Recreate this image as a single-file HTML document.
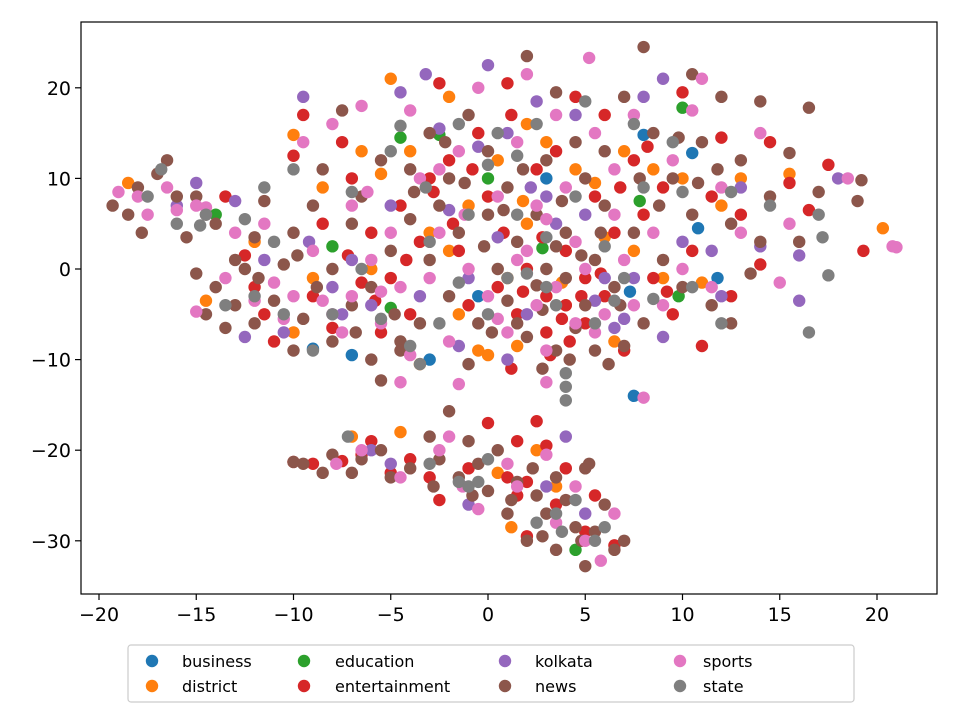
<!DOCTYPE html>
<html><head><meta charset="utf-8"><style>
body{margin:0;background:#fff}
svg{display:block;font-family:"DejaVu Sans","Liberation Sans",sans-serif}
</style></head><body>
<svg id="chart" width="960" height="720" viewBox="0 0 960 720">
<rect x="0" y="0" width="960" height="720" fill="#fff"/>
<g id="points"></g>
<rect x="81" y="22" width="856" height="572" fill="none" stroke="#000" stroke-width="1.2"/>
<g id="xaxis"></g>
<g id="yaxis"></g>
<g id="legend">
<rect x="128" y="645" width="726" height="57" rx="3" fill="#fff" stroke="#ccc" stroke-width="1.2"/>
</g>
</svg>
<script>
const categories=["business","district","education","entertainment","kolkata","news","sports","state"];
const colors=["#1f77b4","#ff7f0e","#2ca02c","#d62728","#9467bd","#8c564b","#e377c2","#7f7f7f"];
const xTicks=[-20,-15,-10,-5,0,5,10,15,20];
const yTicks=[-30,-20,-10,0,10,20];
const business=[[-9.0,-8.8],[-3,-10],[10.5,12.8],[8,14.8],[7.3,-2.5],[10.8,4.5],[11.8,-1],[7.5,-14],[-0.5,-3],[3,10],[-7,-9.5]];
const district=[[-18.5,9.5],[-14.5,-3.5],[-10,14.8],[-6.5,13],[-5,21],[-4,13],[-3.5,-10.5],[-2,19],[-1,7],[0,-9.5],[1,-1],[1.5,-8.5],[2,5],[-4.5,-18],[-7,-18.5],[0.5,-22.5],[1.2,-28.5],[3.5,-24],[5.5,9.5],[6,3.5],[7,13],[8.5,11],[10,10],[11,-1.5],[12,7],[13,10],[15.5,10.5],[20.3,4.5],[-5.5,10.5],[-8.5,9],[-12,3],[3,14],[-1.5,-5],[2.5,-20],[6.5,-8],[9,-1],[-3,4],[4,-4],[-10,-7],[-6,0],[0.5,12],[3.8,-1.5],[-9,-1],[-2,2],[1.8,7.5],[4.5,11],[7.5,2],[-0.5,-9],[2,16]];
const education=[[-14,6],[-8,2.5],[-5,-4.3],[-4.5,14.5],[2.8,2.3],[10,17.8],[9.8,-3],[4.5,-31],[7.8,7.5],[0,10],[-2.5,14.8]];
const entertainment=[[-13.5,8],[-12.5,1.5],[-12,-2],[-11.5,-5],[-11,-8],[-10,12.5],[-9.5,17],[-9,-3],[-8.5,5],[-8,-6.5],[-7.5,14],[-7,10],[-6.5,-1.5],[-6,4],[-5.5,-7],[-5,-1],[-4.5,7],[-4,-5],[-3.5,3],[-3,10],[-2.5,20.5],[-2,12],[-1.5,2],[-1,-4],[-0.5,15],[0,8],[0.5,-2],[1,20.5],[1.2,17],[1.5,-5],[2,0],[2.5,11],[3,-3],[3,-7],[3.5,13],[4,2],[4,-4],[4.5,19],[5,-1],[5,-6],[5.5,8],[6,17],[6,-3],[6.5,4],[7,-9],[7.5,12],[8,6],[8.5,-1],[9,9],[9.5,-5],[10,19.5],[10.5,2],[11,-8.5],[11.5,8],[12,14.5],[12.5,-3],[13,6],[14,0.5],[14.5,14],[15.5,9.5],[16.5,6.5],[17.5,11.5],[19.3,2],[-10,-21.3],[-9,-21.5],[-7.5,-21.2],[-6.5,-20.5],[-5,-22.5],[-4,-21],[-2.5,-25.5],[-1,-22],[0,-17],[1,-23],[1.5,-25],[2,-29.5],[2.5,-16.8],[3,-19.5],[3.5,-26],[4,-22],[5,-29],[5.5,-25],[6.5,-30.5],[1.5,-19],[-3,-23],[-6,-19],[2,-23.5],[-2.8,8.5],[-1.8,5],[-0.8,11],[0.8,4],[1.8,-2.5],[2.8,3.5],[3.8,-5.5],[4.8,-3],[5.8,-0.5],[6.8,9],[8.2,13.5],[9.2,-2.5],[-4.2,1],[-5.8,-3.5],[-7.2,1.5],[3.2,-9.5],[4.2,-8],[1.2,-11]];
const kolkata=[[-15,9.5],[-16,7],[-13,7.5],[-12.5,-7.5],[-11.5,1],[-10.5,-7],[-9.5,19],[-9.2,3],[-8,-2],[-7,1],[-6,-4],[-5,7],[-4.5,19.5],[-3.5,-3],[-3.2,21.5],[-2.5,15.5],[-1.5,-8.5],[-1,-1],[0,22.5],[0.5,3.5],[1,15],[2,-5],[2.5,18.5],[3,8],[4,-18.5],[4.5,17],[5.5,-3.5],[6,-1],[7,-5.5],[7.5,-1],[8,19],[9,21],[9,-7.5],[10,3],[11.5,2],[12,-3],[13,9],[14,2.5],[16,-3.5],[16,1.5],[18,10],[-5,-21.5],[-1,-26],[3,-24],[5,-27],[-6,-20],[1,-10],[-7.5,-5],[-2,6.5],[2.2,9],[3.5,5],[5,6],[-0.5,13.5],[6.5,-6.5]];
const news=[[-19.3,7],[-18.5,6],[-18,9],[-17.8,4],[-17,10.5],[-16.5,12],[-16,8],[-15.5,3.5],[-15,8],[-14.5,6],[-14,5],[-15,-0.5],[-14.5,-5],[-14,-2],[-13.5,-6.5],[-13,-4],[-12.5,0],[-12,3.5],[-12,-6],[-11.5,7.5],[-11,-3.5],[-10.5,0.5],[-10,-9],[-10,4],[-9.5,-5.5],[-9,7],[-8.5,11],[-8,-8],[-8,0],[-7.5,17.5],[-7,-4],[-7,5],[-6.5,8],[-6,-10],[-6,-2],[-5.5,12],[-5.5,-12.3],[-5,2],[-4.5,-8],[-4,5.5],[-4,11],[-3.5,-6],[-3,15],[-3,1],[-2.5,7],[-2,-3],[-2,10],[-1.5,4],[-1,17],[-0.5,-6],[0,6],[0,13],[0.5,0],[1,-3.5],[1,9],[1.5,3],[2,23.5],[2,-7.5],[2.5,6],[3,12],[3,0],[3.5,19.5],[3.5,-9],[4,4],[4,-1],[4.5,14],[5,-4],[5,10],[5.5,1],[5.5,-9],[6,7],[6,13],[6.5,-2],[7,19],[7,-8.5],[7.5,4],[8,24.5],[8,-6],[8.5,15],[9,1],[9.5,10],[10,-2],[10.5,21.5],[10.5,6],[11,14],[11.5,-4],[12,19],[12.5,5],[13,12],[13.5,-0.5],[14,3],[14,18.5],[14.5,8],[15.5,12.8],[16,3],[16.5,17.8],[17,8.5],[19,7.5],[19.2,9.8],[12.5,-6],[-10,-21.3],[-9.5,-21.5],[-8,-20.5],[-7,-22.5],[-6.5,-21],[-5.5,-20],[-4,-22],[-3,-18.5],[-2.5,-21],[-2,-15.7],[-1.5,-23],[-1,-19],[-0.5,-21.5],[0,-24.5],[0.5,-20],[1,-27],[1.5,-23.5],[2,-30],[2.5,-25],[3,-27],[3.5,-23],[3.5,-31],[4,-25.5],[4.5,-28.5],[5,-22],[5,-32.8],[5.5,-29],[6,-26],[6.5,-31],[7,-30],[5.2,-21.5],[2.3,-22],[-2.2,14],[-1.2,9.5],[-0.2,2.5],[0.8,6.5],[1.8,11],[2.8,-4.5],[3.8,7.5],[4.8,1.5],[5.8,4],[6.8,-4],[7.8,10],[8.8,7],[9.8,14.5],[10.8,9.5],[11.8,11],[-3.8,8.5],[-4.8,-5],[-6.8,-7],[-8.8,-2],[-9.8,1.5],[-11.8,-1],[-13,1],[2.5,-1.8],[3.5,2.5],[4.5,-6.5],[1.5,-6],[0.2,-7],[-1,-10.5],[2.8,-11],[4.2,-10],[6.2,-10.5],[-4.5,-9],[-0.8,-25],[1.2,-25.5],[2.8,-29.5],[4.8,-30],[-2.8,-24],[-5,-23],[-8.5,-22.5]];
const sports=[[-19,8.5],[-18,8],[-17.5,6],[-16.5,9],[-16,6.5],[-15,7],[-14.5,6.8],[-15,-4.7],[-13.5,-1],[-13,4],[-12,-3.5],[-11.5,5],[-11,-1.5],[-10.5,-5.5],[-10,-3],[-9.5,14],[-9,2],[-8.5,-3.5],[-8,16],[-7.5,-7],[-7,7],[-7,-3],[-6.5,18],[-6,1],[-5.5,-6],[-5,4],[-4.5,-2],[-4,17.5],[-4,-9.5],[-3.5,10],[-3,-1],[-2.5,4],[-2,-8],[-1.5,13],[-1,0],[-0.5,20],[0,-3],[0.5,8],[1,-7],[1.5,14],[2,21.5],[2,2],[2.5,-4],[3,5.5],[3,-12.5],[3.5,17],[4,9],[4.5,-6],[5,0],[5.2,23.3],[5.5,15],[6,-5],[6.5,11],[7,1],[7.5,17],[8,-14.2],[8.5,4],[9,-4],[9.5,12],[10,0],[10.5,17.5],[11,21],[11.5,-2],[12,9],[13,4],[14,15],[15,-1.5],[15.5,5],[18.5,10],[20.8,2.5],[21,2.4],[-7.8,-21.5],[-6.5,-20],[-4.5,-23],[-2.5,-20],[-1.3,-24],[-0.5,-26.5],[1,-21.5],[1.5,-24],[3.5,-28],[4.5,-24],[5,-30],[5.8,-32.2],[6.5,-27],[-2,-18.5],[3,-20.5],[-4.5,-12.5],[-1.5,-12.7],[-2.5,11],[-1.2,6],[0.5,-5.5],[1.5,1],[2.5,7],[3.5,-2],[4.5,3],[5.5,-7],[6.5,6],[7.5,-4],[-5.5,-2.5],[-8,-5],[-6.2,8.5],[3,-9]];
const state=[[-17.5,8],[-16.8,11],[-16,5],[-14.5,6],[-14.8,4.8],[-13.5,-4],[-12.5,5.5],[-12,-3],[-11.5,9],[-11,3],[-10.5,-5],[-10,11],[-9,-9],[-8,-5],[-7,8.5],[-6.5,0],[-5.5,-5.5],[-5,13],[-4.5,15.8],[-4,-8.5],[-3.5,-10.5],[-3,3],[-2.5,-6],[-1.5,16],[-1,6],[0,-5],[0,11.5],[0.5,15],[1,-1],[1.5,6],[2.5,16],[3,-2],[3.5,-4],[4,-13],[4,-14.5],[4.5,8],[5,18.5],[5.5,-6],[6,2.5],[7,-1],[7.5,16],[8,9],[8.5,-3.3],[9.5,14],[10,8.5],[10.5,-2],[12,-6],[12.5,8.5],[14.5,7],[17,6],[17.2,3.5],[17.5,-0.7],[16.5,-7],[-7.2,-18.5],[-3,-21.5],[-1.5,-23.5],[-1,-24],[0,-21],[2.5,-28],[3.5,-27],[4.5,-25.5],[5.5,-30],[-0.5,-23.5],[6,-28.5],[3.8,-29],[-3.2,9],[1.5,12.5],[2,-0.5],[4,-11.5],[3,3.5],[6.5,-3.5],[-1.5,-1.5]];
const seriesList=[business,district,education,entertainment,kolkata,news,sports,state];

const NS="http://www.w3.org/2000/svg";
function sx(v){return 488+v*19.45;}
function sy(v){return 269-v*9.06;}
function mk(tag,attrs,parent){const e=document.createElementNS(NS,tag);for(const k in attrs)e.setAttribute(k,attrs[k]);parent.appendChild(e);return e;}

const pts=document.getElementById('points');
seriesList.forEach((s,i)=>{
  const g=mk('g',{},pts);
  
  
  s.forEach(p=>{
    const c=mk('circle',{cx:sx(p[0]),cy:sy(p[1]),r:6.2,fill:colors[i]},g);
    
    
  });
});

const xa=document.getElementById('xaxis');
xTicks.forEach(t=>{
  const l=mk('line',{x1:sx(t),x2:sx(t),y1:594,y2:600,stroke:'#000','stroke-width':1.2},xa);
  
  
  const tx=mk('text',{x:sx(t),y:621,'text-anchor':'middle','font-size':19},xa);
  
  
  tx.textContent=(t<0?'\u2212'+(-t):String(t));
});
const ya=document.getElementById('yaxis');
yTicks.forEach(t=>{
  const l=mk('line',{x1:75,x2:81,y1:sy(t),y2:sy(t),stroke:'#000','stroke-width':1.2},ya);
  
  
  const tx=mk('text',{x:71,y:sy(t)+7,'text-anchor':'end','font-size':19},ya);
  
  
  tx.textContent=(t<0?'\u2212'+(-t):String(t));
});

const lg=document.getElementById('legend');
const colX=[152,304,505,680,779];
const txtX=[182,335,535,703,808];
const rowY=[661,686];
categories.forEach((c,i)=>{
  const col=Math.floor(i/2), row=i%2;
  const g=mk('g',{},lg);
  
  
  mk('circle',{cx:colX[col],cy:rowY[row],r:6.2,fill:colors[i]},g);
  const t=mk('text',{x:txtX[col],y:rowY[row]+6,'font-size':16}, g);
  t.textContent=c;
});
</script>
</body></html>
